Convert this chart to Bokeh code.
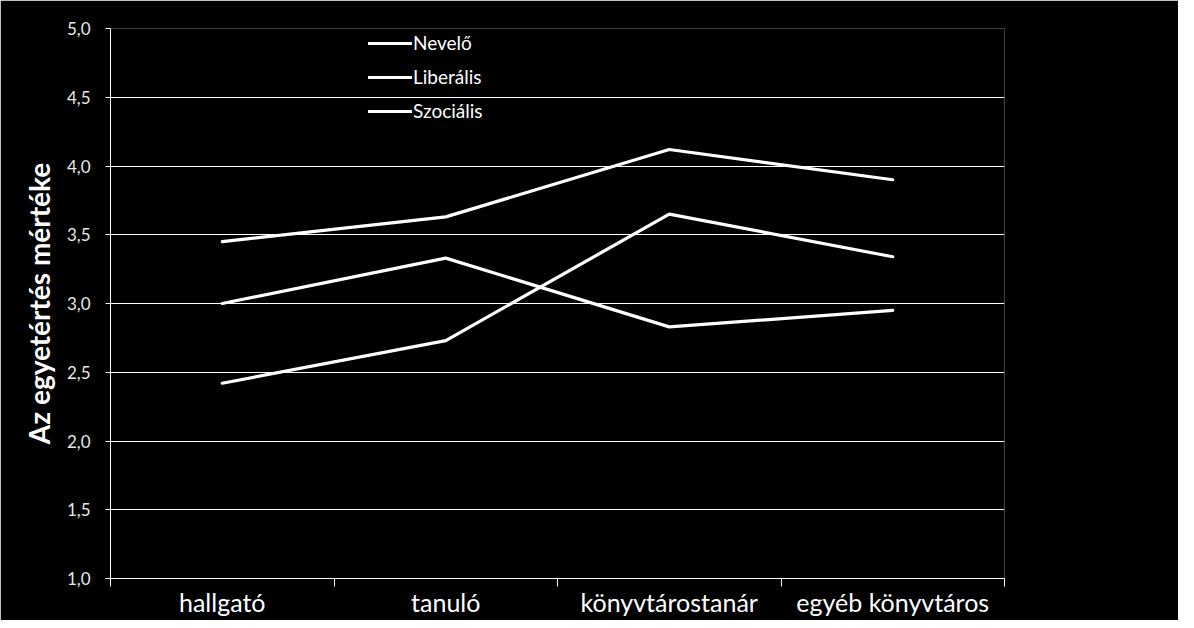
from bokeh.plotting import figure
from bokeh.models import FixedTicker, Legend, LegendItem, ColumnDataSource
from bokeh.embed import file_html
from bokeh.resources import INLINE

categories = ["hallgató", "tanuló", "könyvtárostanár", "egyéb könyvtáros"]
nevelo = [3.45, 3.63, 4.12, 3.90]
liberalis = [3.00, 3.33, 2.83, 2.95]
szocialis = [2.42, 2.73, 3.65, 3.34]
series_names = ["Nevelő", "Liberális", "Szociális"]
y_ticks = [1.0, 1.5, 2.0, 2.5, 3.0, 3.5, 4.0, 4.5, 5.0]
y_tick_labels = ["1,0", "1,5", "2,0", "2,5", "3,0", "3,5", "4,0", "4,5", "5,0"]

FONT = "Lato"
x_pos = [i + 0.5 for i in range(len(categories))]

p = figure(width=1178, height=620, output_backend="svg", toolbar_location=None,
           x_range=(0, len(categories)), y_range=(1.0, 5.0),
           min_border_left=110, min_border_right=174, min_border_top=28, min_border_bottom=42)
p.background_fill_color = "black"
p.border_fill_color = "black"
p.outline_line_color = None

renderers = []
for name, vals in zip(series_names, [nevelo, liberalis, szocialis]):
    src = ColumnDataSource(dict(x=x_pos, y=vals))
    r = p.line("x", "y", source=src, line_color="white", line_width=3.2, line_join="round", line_cap="round")
    renderers.append((name, r))

# x axis: labels at centres, ticks at boundaries
p.xaxis.ticker = FixedTicker(ticks=x_pos, minor_ticks=list(range(len(categories) + 1)))
p.xaxis.major_label_overrides = {x: c for x, c in zip(x_pos, categories)}
p.xaxis.major_tick_out = 0
p.xaxis.major_tick_in = 0
p.xaxis.minor_tick_out = 8
p.xaxis.minor_tick_in = 0
p.xaxis.minor_tick_line_color = "white"
p.xaxis.axis_line_color = "white"
p.xaxis.major_label_text_color = "white"
p.xaxis.major_label_text_font = FONT
p.xaxis.major_label_text_font_size = "25px"
p.xaxis.major_label_standoff = 0

p.yaxis.ticker = FixedTicker(ticks=y_ticks, minor_ticks=[])
p.yaxis.major_label_overrides = {t: l for t, l in zip(y_ticks, y_tick_labels)}
p.yaxis.major_tick_out = 5
p.yaxis.major_tick_in = 0
p.yaxis.major_tick_line_color = "white"
p.yaxis.axis_line_color = "white"
p.yaxis.major_label_text_color = "#e8e8e8"
p.yaxis.major_label_text_font = FONT
p.yaxis.major_label_text_font_size = "17px"
p.yaxis.major_label_standoff = 15
p.yaxis.axis_label = "Az egyetértés mértéke"
p.yaxis.axis_label_text_color = "white"
p.yaxis.axis_label_text_font = FONT
p.yaxis.axis_label_text_font_style = "bold"
p.yaxis.axis_label_text_font_size = "28px"
p.yaxis.axis_label_standoff = 8

p.xgrid.grid_line_color = None
p.ygrid.grid_line_color = "white"
p.ygrid.grid_line_width = 1
p.ygrid.ticker = FixedTicker(ticks=y_ticks)

legend = Legend(items=[LegendItem(label=n, renderers=[r]) for n, r in renderers],
                location=(258, 456), background_fill_alpha=0, border_line_color=None,
                label_text_color="white", label_text_font=FONT, label_text_font_size="19px",
                glyph_width=44, glyph_height=20, label_height=20, spacing=11,
                padding=0, margin=0, label_standoff=1)
p.add_layout(legend)

open("out.html", "w").write(file_html(p, INLINE))
